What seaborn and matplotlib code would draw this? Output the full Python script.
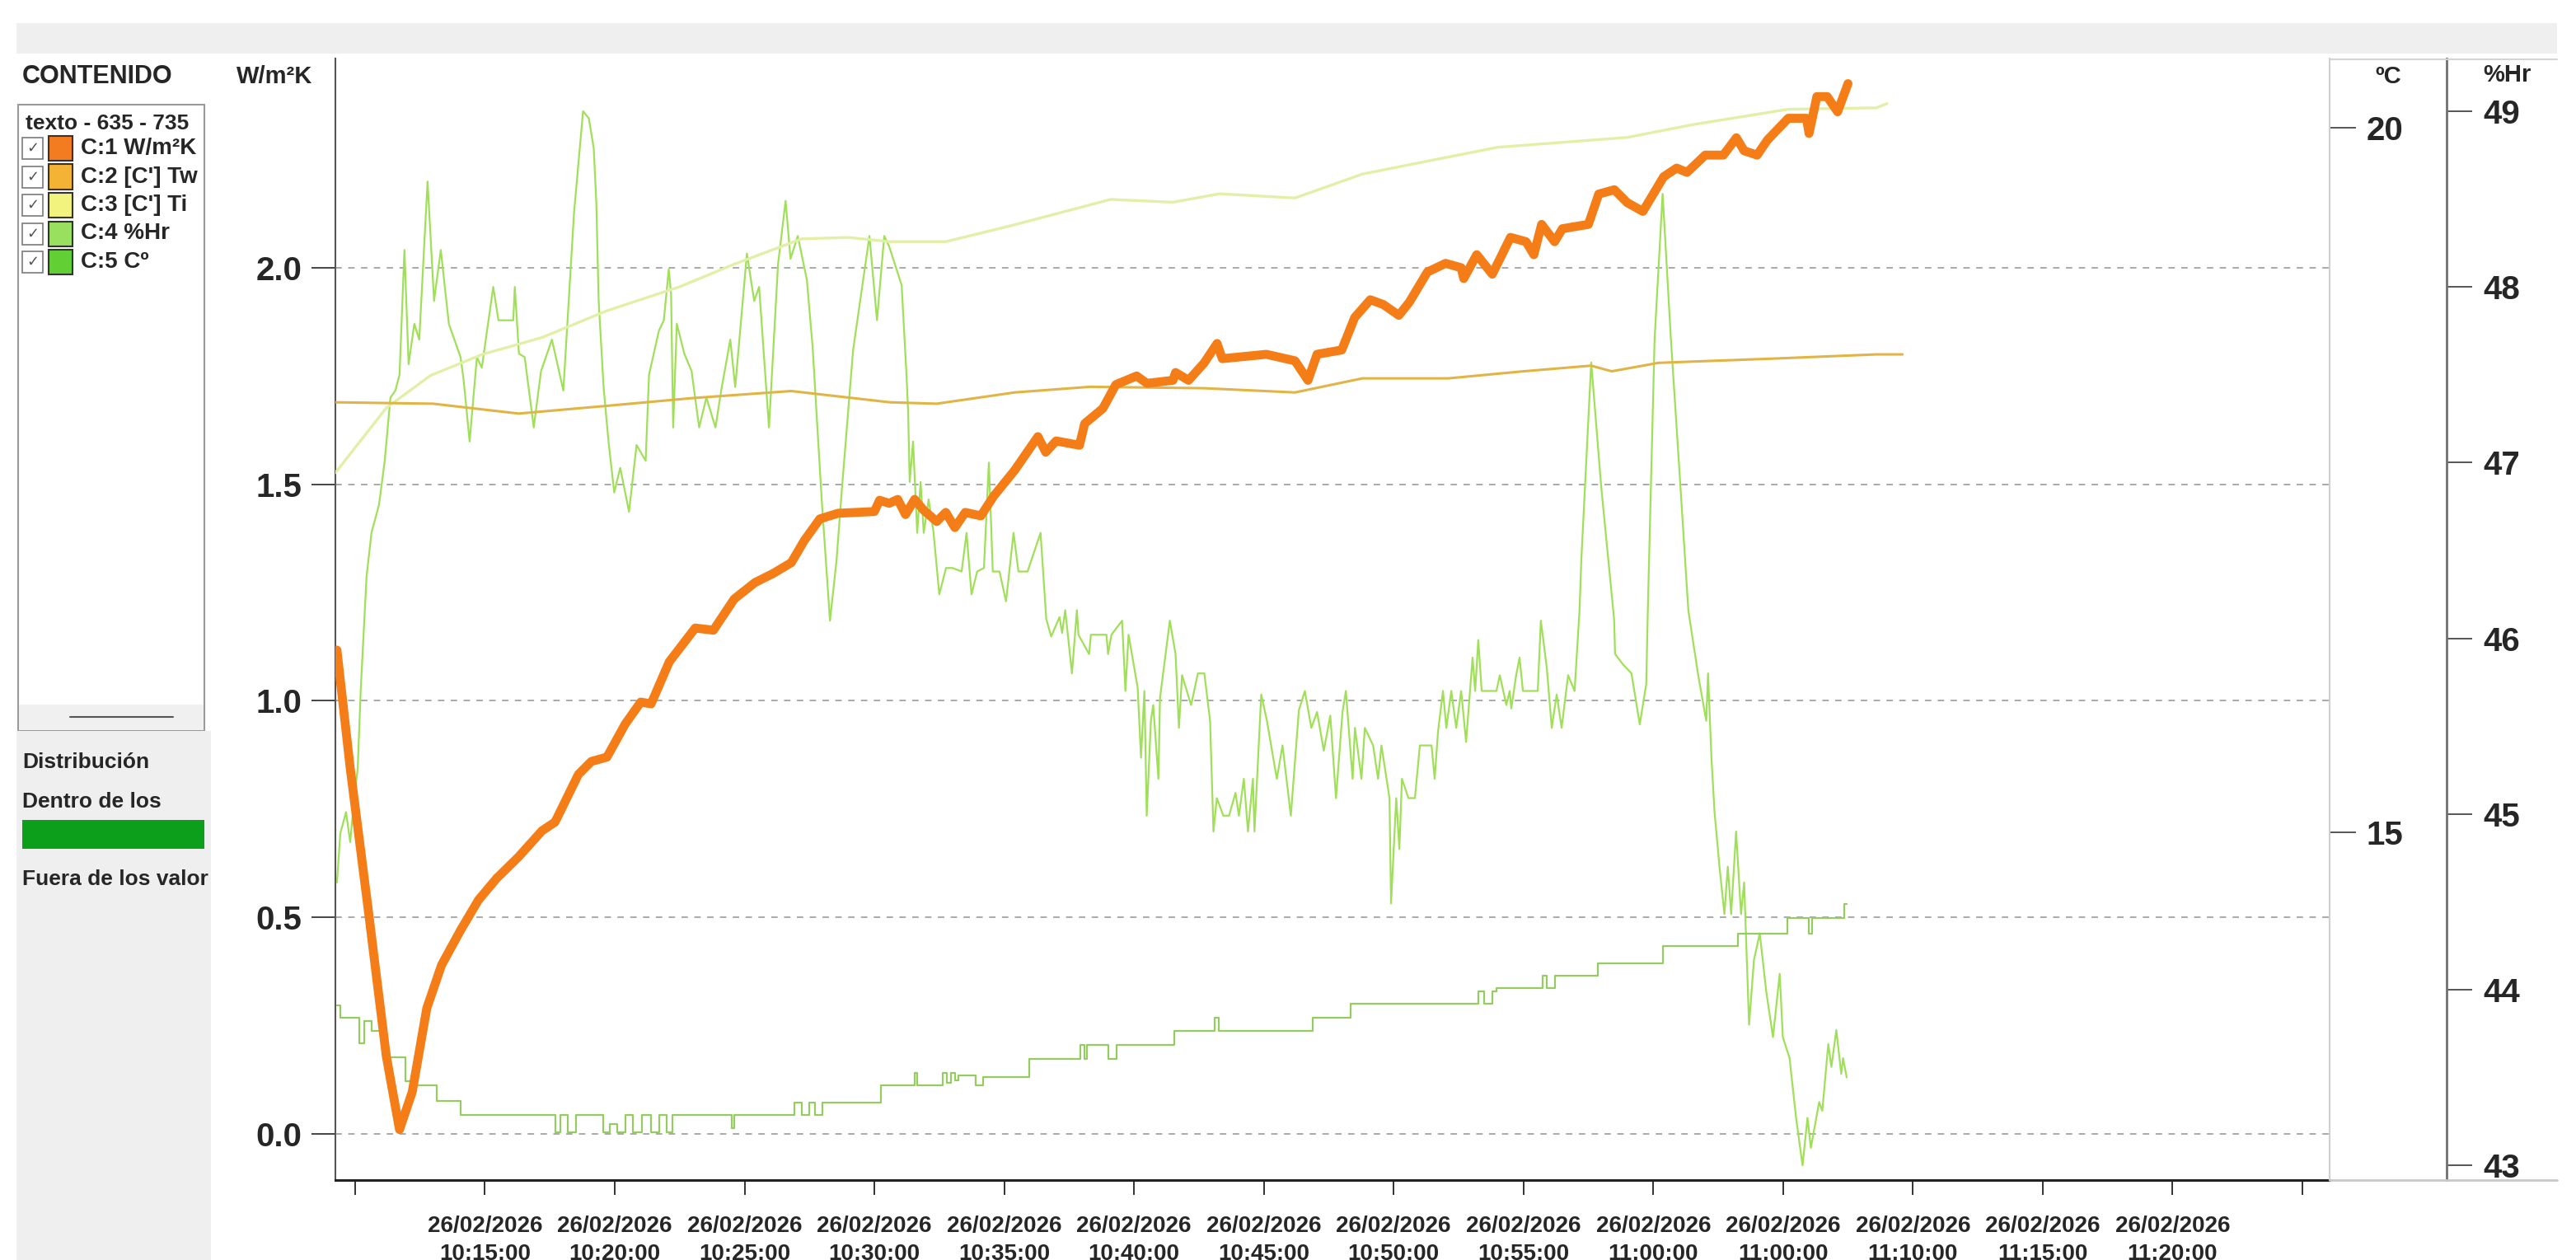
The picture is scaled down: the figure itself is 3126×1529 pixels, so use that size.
import matplotlib
matplotlib.use("Agg")
import matplotlib.pyplot as plt
from matplotlib import font_manager
from matplotlib.patches import Rectangle
from matplotlib.lines import Line2D
import pandas as pd
import seaborn as sns

W, H, DPI = 3126, 1529, 100

# tiempo en minutos desde 26/02/2026 10:10:00
# C:1 W/m2K (eje izquierdo)
u_t = [-0.70, -0.19, 0.50, 1.20, 1.71, 2.20, 2.76, 3.33, 4.06, 4.75,
       5.45, 6.30, 7.20, 7.70, 8.60, 9.10, 9.70, 10.40, 11.00, 11.40,
       12.10, 13.10, 13.80, 14.60, 15.40, 16.10, 16.80, 17.30, 17.90, 18.60,
       20.00, 20.20, 20.57, 20.90, 21.20, 21.55, 21.90, 22.40, 22.75, 23.10,
       23.50, 24.10, 24.60, 25.40, 26.30, 26.60, 27.00, 27.90, 28.10, 28.80,
       29.30, 30.10, 30.50, 31.50, 31.60, 32.10, 32.70, 33.20, 33.40, 35.10,
       36.20, 36.70, 37.05, 38.00, 38.50, 39.10, 39.60, 40.20, 40.60, 41.30,
       42.00, 42.60, 42.70, 43.20, 43.80, 44.50, 45.10, 45.40, 45.70, 46.20,
       46.50, 47.50, 47.90, 48.50, 49.00, 49.60, 50.40, 50.90, 51.30, 52.00,
       52.70, 53.20, 53.50, 54.00, 54.40, 55.20, 55.90, 56.00, 56.30, 56.70,
       57.10, 57.50]
u_v = [1.117, 0.845, 0.52, 0.18, 0.01, 0.097, 0.29, 0.39, 0.47, 0.54,
       0.59, 0.64, 0.70, 0.72, 0.83, 0.86, 0.87, 0.946, 0.997, 0.993,
       1.09, 1.168, 1.163, 1.235, 1.273, 1.294, 1.319, 1.37, 1.42, 1.433,
       1.437, 1.463, 1.456, 1.465, 1.43, 1.465, 1.44, 1.414, 1.435, 1.40,
       1.435, 1.427, 1.473, 1.532, 1.61, 1.574, 1.60, 1.59, 1.64, 1.675,
       1.73, 1.75, 1.733, 1.74, 1.758, 1.74, 1.78, 1.825, 1.79, 1.80,
       1.785, 1.74, 1.80, 1.81, 1.885, 1.926, 1.915, 1.89, 1.92, 1.99,
       2.01, 2.00, 1.975, 2.03, 1.985, 2.07, 2.06, 2.03, 2.10, 2.06,
       2.09, 2.10, 2.17, 2.18, 2.15, 2.13, 2.21, 2.23, 2.22, 2.26,
       2.26, 2.30, 2.27, 2.26, 2.295, 2.345, 2.345, 2.31, 2.395, 2.395,
       2.36, 2.425]

# C:2 Tw [C]
tw_t = [-0.76, 3.0, 6.3, 10.0, 13.0, 16.8, 20.6, 22.4, 25.4, 28.3, 32.7,
        36.2, 38.8, 42.1, 45.0, 47.6, 48.4, 50.2, 54.6, 58.6, 59.6]
tw_v = [18.05, 18.04, 17.97, 18.03, 18.08, 18.13, 18.05, 18.04, 18.12, 18.16, 18.15,
        18.12, 18.22, 18.22, 18.27, 18.31, 18.27, 18.33, 18.36, 18.39, 18.39]

# C:3 Ti [C]
ti_t = [-0.76, 1.2, 2.9, 4.9, 7.2, 9.7, 12.5, 14.6, 17.2, 19.0, 20.6, 22.75,
        25.4, 29.1, 31.5, 33.3, 36.2, 38.8, 44.0, 49.0, 51.5, 55.2, 58.6, 59.0]
ti_v = [17.55, 18.01, 18.24, 18.39, 18.51, 18.70, 18.87, 19.03, 19.21, 19.22, 19.19, 19.19,
        19.31, 19.49, 19.47, 19.53, 19.50, 19.67, 19.86, 19.93, 20.02, 20.13, 20.14, 20.17]

# C:4 %Hr
hr_t = [-0.70, -0.57, -0.35, -0.19, -0.06, 0.10, 0.22, 0.44, 0.63, 0.92,
        1.14, 1.36, 1.55, 1.71, 1.90, 2.06, 2.28, 2.47, 2.79, 3.04,
        3.30, 3.61, 4.06, 4.18, 4.41, 4.69, 4.88, 5.32, 5.52, 6.09,
        6.15, 6.31, 6.53, 6.88, 7.16, 7.58, 8.02, 8.43, 8.78, 9.00,
        9.19, 9.29, 9.38, 9.57, 9.76, 9.98, 10.21, 10.55, 10.84, 11.19,
        11.32, 11.70, 11.89, 12.08, 12.17, 12.25, 12.39, 12.68, 12.96, 13.25,
        13.53, 13.88, 14.10, 14.45, 14.64, 15.09, 15.37, 15.56, 15.94, 16.29,
        16.58, 16.77, 17.05, 17.40, 17.62, 17.97, 18.29, 18.54, 18.76, 19.18,
        19.81, 20.10, 20.38, 20.57, 21.05, 21.24, 21.30, 21.36, 21.49, 21.65,
        21.78, 21.90, 22.09, 22.28, 22.50, 22.76, 23.01, 23.36, 23.55, 23.74,
        23.96, 24.22, 24.41, 24.56, 24.82, 25.07, 25.36, 25.55, 25.90, 26.40,
        26.62, 26.81, 27.13, 27.23, 27.35, 27.61, 27.80, 27.86, 28.27, 28.34,
        28.94, 29.00, 29.13, 29.54, 29.67, 29.79, 30.14, 30.27, 30.40, 30.49,
        30.65, 30.74, 30.94, 31.00, 31.38, 31.60, 31.73, 31.85, 32.20, 32.46,
        32.71, 32.93, 33.06, 33.19, 33.44, 33.66, 33.91, 34.04, 34.23, 34.39,
        34.58, 34.64, 34.90, 35.12, 35.50, 35.72, 36.04, 36.35, 36.58, 36.83,
        37.05, 37.31, 37.56, 37.78, 38.03, 38.16, 38.42, 38.51, 38.76, 38.89,
        39.21, 39.40, 39.53, 39.84, 39.90, 40.10, 40.22, 40.32, 40.57, 40.82,
        41.01, 41.46, 41.58, 41.71, 41.90, 42.03, 42.22, 42.41, 42.60, 42.79,
        43.04, 43.14, 43.26, 43.39, 43.96, 44.09, 44.34, 44.47, 44.53, 44.72,
        44.85, 44.98, 45.55, 45.67, 45.90, 46.09, 46.28, 46.47, 46.72, 46.97,
        47.16, 47.23, 47.61, 47.99, 48.49, 48.53, 48.84, 49.16, 49.48, 49.73,
        49.79, 50.05, 50.36, 50.68, 51.00, 51.35, 51.73, 52.04, 52.11, 52.24,
        52.36, 52.55, 52.74, 52.87, 53.00, 53.19, 53.38, 53.50, 53.69, 53.88,
        54.10, 54.36, 54.61, 54.87, 54.99, 55.25, 55.50, 55.75, 55.94, 56.07,
        56.39, 56.51, 56.74, 56.86, 57.05, 57.24, 57.31, 57.45]
hr_v = [44.61, 44.89, 45.01, 44.84, 45.05, 45.26, 45.72, 46.35, 46.60, 46.76,
        47.01, 47.37, 47.41, 47.50, 48.21, 47.56, 47.79, 47.70, 48.60, 47.92,
        48.21, 47.79, 47.60, 47.47, 47.12, 47.60, 47.54, 48.00, 47.81, 47.81,
        48.00, 47.62, 47.60, 47.20, 47.52, 47.70, 47.41, 48.42, 49.00, 48.96,
        48.79, 48.48, 47.92, 47.43, 47.12, 46.83, 46.97, 46.72, 47.10, 47.01,
        47.50, 47.75, 47.81, 48.10, 47.96, 47.20, 47.79, 47.62, 47.52, 47.20,
        47.37, 47.20, 47.41, 47.70, 47.43, 48.19, 47.92, 48.00, 47.20, 48.13,
        48.49, 48.16, 48.29, 48.04, 47.66, 46.79, 46.10, 46.44, 46.87, 47.64,
        48.29, 47.81, 48.29, 48.23, 48.01, 47.49, 47.29, 46.89, 47.12, 46.60,
        46.89, 46.60, 46.79, 46.60, 46.25, 46.40, 46.40, 46.38, 46.60, 46.25,
        46.38, 46.40, 47.00, 46.38, 46.38, 46.21, 46.60, 46.38, 46.38, 46.60,
        46.11, 46.01, 46.12, 46.03, 46.16, 45.80, 46.16, 46.02, 45.91, 46.02,
        46.02, 45.91, 46.02, 46.10, 45.70, 46.02, 45.72, 45.32, 45.70, 44.99,
        45.53, 45.62, 45.20, 45.66, 46.10, 45.91, 45.49, 45.79, 45.62, 45.80,
        45.80, 45.53, 44.90, 45.09, 44.99, 44.99, 45.12, 44.99, 45.20, 44.90,
        45.20, 44.90, 45.68, 45.53, 45.20, 45.39, 44.99, 45.59, 45.70, 45.49,
        45.58, 45.36, 45.56, 45.09, 45.58, 45.70, 45.20, 45.49, 45.20, 45.49,
        45.39, 45.20, 45.39, 45.09, 44.49, 45.09, 44.80, 45.20, 45.09, 45.09,
        45.39, 45.39, 45.20, 45.47, 45.70, 45.49, 45.70, 45.49, 45.70, 45.41,
        45.89, 45.70, 45.99, 45.70, 45.70, 45.79, 45.62, 45.70, 45.60, 45.79,
        45.89, 45.70, 45.70, 46.10, 45.83, 45.49, 45.68, 45.49, 45.79, 45.70,
        46.16, 46.45, 47.57, 46.87, 46.11, 45.91, 45.85, 45.80, 45.51, 45.74,
        46.16, 47.70, 48.53, 47.70, 46.97, 46.16, 45.79, 45.53, 45.80, 45.32,
        45.01, 44.70, 44.43, 44.70, 44.43, 44.90, 44.43, 44.61, 43.80, 44.17,
        44.32, 43.98, 43.73, 44.09, 43.73, 43.61, 43.27, 43.00, 43.27, 43.10,
        43.36, 43.31, 43.69, 43.56, 43.77, 43.52, 43.61, 43.50]

# C:5 C (escalonada)
c5_t = [-0.70, -0.57, 0.16, 0.35, 0.63, 1.20, 1.93, 2.19, 3.14, 4.06,
        7.73, 7.90, 8.20, 8.50, 9.57, 9.80, 10.10, 10.40, 10.70, 11.06,
        11.40, 11.70, 12.00, 12.23, 14.52, 14.60, 16.93, 17.20, 17.50, 17.72,
        18.00, 20.25, 21.55, 21.65, 22.63, 22.80, 22.95, 23.10, 23.23, 23.90,
        24.20, 25.96, 27.92, 28.10, 28.20, 29.00, 29.32, 31.54, 33.12, 33.25,
        36.89, 38.35, 43.26, 43.50, 43.80, 43.96, 45.74, 45.90, 46.20, 47.86,
        50.36, 53.25, 55.18, 56.00, 56.13, 57.37, 57.45]
c5_v = [13.77, 13.68, 13.50, 13.66, 13.59, 13.40, 13.23, 13.20, 13.09, 12.99,
        12.87, 12.99, 12.87, 12.99, 12.87, 12.93, 12.87, 12.99, 12.87, 12.99,
        12.87, 12.99, 12.87, 12.99, 12.90, 12.99, 13.08, 12.99, 13.08, 12.99,
        13.08, 13.20, 13.29, 13.20, 13.29, 13.22, 13.29, 13.24, 13.27, 13.20,
        13.26, 13.39, 13.49, 13.39, 13.49, 13.39, 13.49, 13.59, 13.68, 13.59,
        13.68, 13.78, 13.87, 13.78, 13.87, 13.89, 13.98, 13.89, 13.98, 14.07,
        14.19, 14.28, 14.39, 14.28, 14.39, 14.49, 14.49]

tick_min = list(range(0, 80, 5))
tick_hours = ["", "10:15:00", "10:20:00", "10:25:00", "10:30:00", "10:35:00",
              "10:40:00", "10:45:00", "10:50:00", "10:55:00", "11:00:00",
              "11:00:00", "11:10:00", "11:15:00", "11:20:00", ""]
fecha = "26/02/2026"

left_ticks = [0.0, 0.5, 1.0, 1.5, 2.0]
c_ticks = [15, 20]
hr_ticks = [43, 44, 45, 46, 47, 48, 49]

series_names = ["C:1 W/m²K", "C:2 [C'] Tw", "C:3 [C'] Ti", "C:4 %Hr", "C:5 Cº"]
swatch_colors = ["#f47c20", "#f5b335", "#f2f27e", "#98e05e", "#62d034"]

sns.set_theme(style="white")
have = {f.name for f in font_manager.fontManager.ttflist}
FONT = [f for f in ["Liberation Sans Narrow", "Liberation Sans", "DejaVu Sans"] if f in have]
plt.rcParams["font.family"] = FONT
plt.rcParams["font.weight"] = "bold"

fig = plt.figure(figsize=(W / DPI, H / DPI), dpi=DPI)
fig.patch.set_facecolor("white")


def box(x0, y0, x1, y1, **kw):
    fig.add_artist(Rectangle((x0 / W, 1 - y1 / H), (x1 - x0) / W, (y1 - y0) / H,
                             transform=fig.transFigure, **kw))


def label(x, y, s, **kw):
    fig.text(x / W, 1 - y / H, s, **kw)


def hline(x0, x1, y, **kw):
    fig.add_artist(Line2D([x0 / W, x1 / W], [1 - y / H, 1 - y / H],
                          transform=fig.transFigure, **kw))


rect = [407 / W, (H - 1432) / H, (2827 - 407) / W, (1432 - 71) / H]
ax = fig.add_axes(rect)
ax_h = ax.twinx()
ax_c = ax.twinx()
ax_u = fig.add_axes(rect, sharex=ax, sharey=ax)

df_u = pd.DataFrame({"t": u_t, "v": u_v})
df_tw = pd.DataFrame({"t": tw_t, "v": tw_v})
df_ti = pd.DataFrame({"t": ti_t, "v": ti_v})
df_hr = pd.DataFrame({"t": hr_t, "v": hr_v})
df_c5 = pd.DataFrame({"t": c5_t, "v": c5_v})

sns.lineplot(data=df_hr, x="t", y="v", ax=ax_h, color="#a0e058", linewidth=1.6,
             estimator=None, sort=False)
sns.lineplot(data=df_c5, x="t", y="v", ax=ax_c, color="#94cc62", linewidth=1.6,
             estimator=None, sort=False, drawstyle="steps-post")
sns.lineplot(data=df_ti, x="t", y="v", ax=ax_c, color="#e2efa6", linewidth=2.4,
             estimator=None, sort=False)
sns.lineplot(data=df_tw, x="t", y="v", ax=ax_c, color="#e2b446", linewidth=2.2,
             estimator=None, sort=False)
sns.lineplot(data=df_u, x="t", y="v", ax=ax_u, color="#f57d18", linewidth=7.8,
             estimator=None, sort=False, solid_joinstyle="round")

# eje principal
ax.set_xlim(-0.76, 76.05)
ax.set_ylim(-0.1066, 2.483)
ax.set_xticks(tick_min)
ax.set_xticklabels([f"{fecha}\n{h}" if h else "" for h in tick_hours],
                   linespacing=1.4)
ax.set_yticks(left_ticks)
ax.set_yticklabels([f"{v:.1f}" for v in left_ticks])
ax.set_xlabel("")
ax.set_ylabel("")
ax.yaxis.grid(True, color="#a9a9a9", linestyle=(0, (4, 4)), linewidth=1.4)
ax.xaxis.grid(False)
ax.tick_params(axis="y", left=True, direction="out", length=21, width=1.4,
               color="#444444", pad=8, labelsize=29)
ax.tick_params(axis="x", bottom=True, direction="out", length=13, width=1.4,
               color="#333333", pad=18, labelsize=20)
for s in ["top", "right"]:
    ax.spines[s].set_visible(False)
ax.spines["left"].set_color("#555555")
ax.spines["left"].set_linewidth(1.5)
ax.spines["bottom"].set_color("#222222")
ax.spines["bottom"].set_linewidth(2.2)

ax_u.set_axis_off()

# eje ºC
ax_c.set_ylim(12.53, 20.49)
ax_c.set_yticks(c_ticks)
ax_c.set_ylabel("")
for s in ["top", "left", "bottom"]:
    ax_c.spines[s].set_visible(False)
ax_c.spines["right"].set_color("#cfcfcf")
ax_c.spines["right"].set_linewidth(1.5)
ax_c.tick_params(axis="y", right=True, direction="out", length=23, width=1.4,
                 color="#555555", pad=9, labelsize=29)

# eje %Hr
ax_h.set_ylim(42.916, 49.30)
ax_h.set_yticks(hr_ticks)
ax_h.set_ylabel("")
for s in ["top", "left", "bottom"]:
    ax_h.spines[s].set_visible(False)
ax_h.spines["right"].set_position(("outward", 142 * 72 / DPI))
ax_h.spines["right"].set_color("#707070")
ax_h.spines["right"].set_linewidth(2)
ax_h.tick_params(axis="y", right=True, direction="out", length=22, width=1.4,
                 color="#555555", pad=10, labelsize=29)

# marco de la ventana
box(20, 28, 3103, 65, fc="#efefef", ec="none")
hline(2827, 3103, 72, color="#d4d4d4", lw=1.5)
hline(2827, 3103, 1432, color="#c8c8c8", lw=2)

label(333, 93, "W/m²K", ha="center", va="center", fontsize=21)
label(2898, 93, "ºC", ha="center", va="center", fontsize=21)
label(3042, 91, "%Hr", ha="center", va="center", fontsize=21)

# panel izquierdo
label(27, 93, "CONTENIDO", ha="left", va="center", fontsize=22)
box(22, 127, 248, 887, fc="white", ec="#9a9a9a", lw=1.5)
box(23, 855, 247, 886, fc="#f0f0f0", ec="none")
hline(85, 210, 870, color="#555555", lw=1.5)
label(31, 150, "texto - 635 - 735", ha="left", va="center", fontsize=19)
for i, (name, col) in enumerate(zip(series_names, swatch_colors)):
    yc = 180 + i * 34.5
    box(27, yc - 13, 52, yc + 13, fc="white", ec="#7a7a7a", lw=1.2)
    label(39.5, yc, "✓", ha="center", va="center", fontsize=13, color="#555555",
          family="DejaVu Sans", fontweight="normal")
    box(59, yc - 15, 88, yc + 15, fc=col, ec="#333333", lw=1.5)
    label(98, yc, name, ha="left", va="center", fontsize=20)

box(20, 887, 256, H + 2, fc="#efefef", ec="none")
label(27, 925, "Distribución", ha="left", va="center", fontsize=19)
label(27, 973, "Dentro de los", ha="left", va="center", fontsize=19)
box(27, 995, 248, 1030, fc="#0c9f1c", ec="none")
label(27, 1067, "Fuera de los valor", ha="left", va="center", fontsize=19)

fig.savefig("out.png", dpi=DPI, facecolor="white")
